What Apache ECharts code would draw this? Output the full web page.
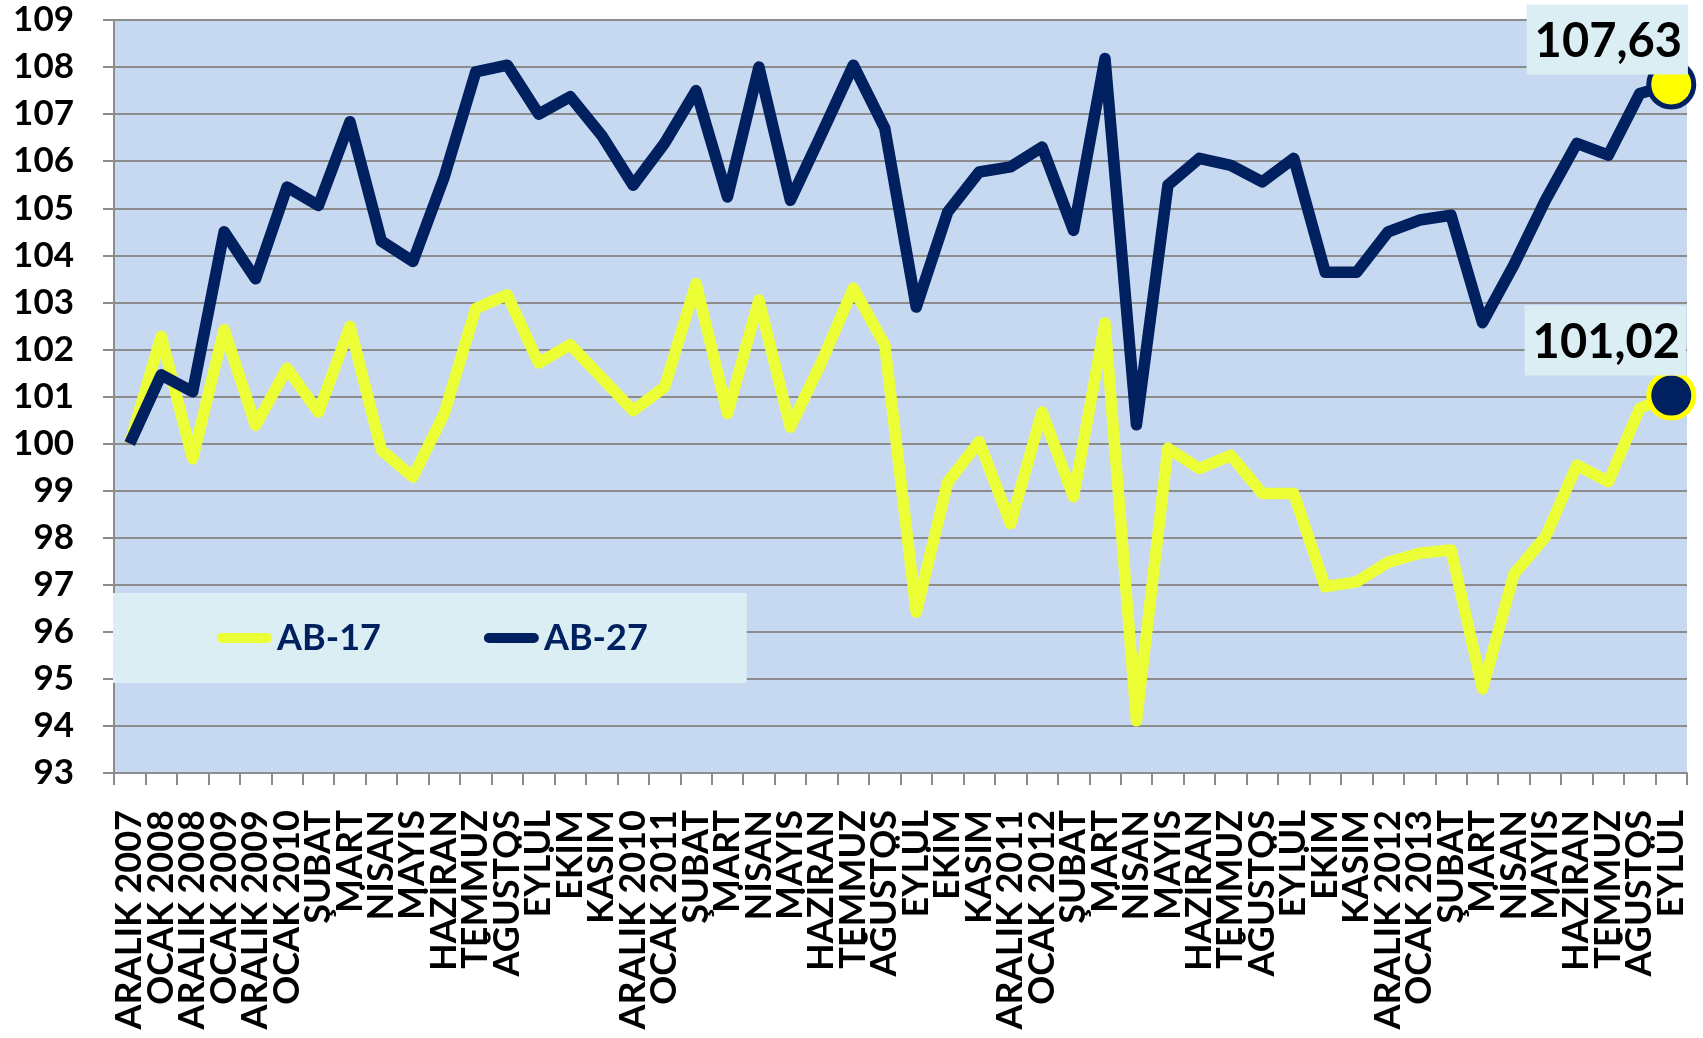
<!DOCTYPE html>
<html><head><meta charset="utf-8">
<script src="https://cdn.jsdelivr.net/npm/echarts@6/dist/echarts.min.js"></script>
<style>html,body{margin:0;padding:0;background:#fff}#c{width:1703px;height:1038px}</style>
</head><body><div id="c"></div>
<script>
const categories = ["ARALIK 2007","OCAK 2008","ARALIK 2008","OCAK 2009","ARALIK 2009","OCAK 2010","ŞUBAT","MART","NİSAN","MAYIS","HAZİRAN","TEMMUZ","AĞUSTOS","EYLÜL","EKİM","KASIM","ARALIK 2010","OCAK 2011","ŞUBAT","MART","NİSAN","MAYIS","HAZİRAN","TEMMUZ","AĞUSTOS","EYLÜL","EKİM","KASIM","ARALIK 2011","OCAK 2012","ŞUBAT","MART","NİSAN","MAYIS","HAZİRAN","TEMMUZ","AĞUSTOS","EYLÜL","EKİM","KASIM","ARALIK 2012","OCAK 2013","ŞUBAT","MART","NİSAN","MAYIS","HAZİRAN","TEMMUZ","AĞUSTOS","EYLÜL"];
const ab17 = [100,102.28,99.68,102.42,100.39,101.6,100.67,102.49,99.86,99.29,100.64,102.87,103.16,101.71,102.1,101.4,100.7,101.2,103.4,100.64,103.05,100.35,101.75,103.3,102.1,96.42,99.18,100.04,98.3,100.67,98.87,102.56,94.11,99.9,99.47,99.75,98.94,98.94,96.96,97.06,97.48,97.67,97.74,94.79,97.23,98.02,99.54,99.19,100.75,101.02];
const ab27 = [100,101.46,101.1,104.5,103.5,105.45,105.06,106.84,104.3,103.87,105.67,107.9,108.04,107.0,107.37,106.55,105.49,106.38,107.5,105.24,108.0,105.17,106.59,108.04,106.7,102.9,104.92,105.77,105.88,106.3,104.53,108.18,100.4,105.49,106.06,105.91,105.56,106.06,103.64,103.64,104.5,104.75,104.85,102.57,103.8,105.17,106.38,106.13,107.44,107.63];
const seriesNames = ["AB-17","AB-27"];
const yMin = 93, yMax = 109, yStep = 1;

const NAVY = '#002060', YEL = '#ECFF36';
const FONT = 'Lato';
const fmt = v => v.toFixed(2).replace('.', ',');

function withEndMarker(arr, fill, border, labelOffset) {
  return arr.map((v, i) => {
    if (i !== arr.length - 1) return v;
    return {
      value: v,
      symbol: 'circle',
      symbolSize: 45,
      itemStyle: { color: fill, borderColor: border, borderWidth: 5 },
      label: {
        show: true, position: 'top', offset: labelOffset,
        formatter: p => fmt(p.value),
        fontFamily: FONT, fontWeight: 'bold', fontSize: 47, color: '#000',
        backgroundColor: '#DBEEF3', padding: [11, 6, 7, 8], lineHeight: 52
      }
    };
  });
}

const chart = echarts.init(document.getElementById('c'), null, { renderer: 'canvas' });
chart.setOption({
  animation: false,
  backgroundColor: '#fff',
  grid: { left: 114, right: 16, top: 20, bottom: 265, show: true, backgroundColor: '#C6D9F1', borderWidth: 0 },
  legend: {
    left: 113, top: 593,
    padding: [27, 99, 27, 104],
    backgroundColor: '#DBEEF3',
    itemGap: 103, itemWidth: 55, itemHeight: 11,
    icon: 'path://M5 0H50A5 5 0 0 1 50 10H5A5 5 0 0 1 5 0Z',
    textStyle: { color: NAVY, fontFamily: FONT, fontWeight: 'bold', fontSize: 36 },
    data: seriesNames
  },
  xAxis: {
    type: 'category', data: categories, boundaryGap: true,
    axisLine: { lineStyle: { color: '#8C8C8C', width: 2 } },
    axisTick: { show: true, length: 12, lineStyle: { color: '#8C8C8C', width: 2 } },
    axisLabel: { interval: 0, rotate: 90, margin: 37, color: '#000', fontFamily: FONT, fontWeight: 'bold', fontSize: 36 },
    splitLine: { show: false }
  },
  yAxis: {
    type: 'value', min: yMin, max: yMax, interval: yStep,
    axisLine: { show: true, lineStyle: { color: '#8C8C8C', width: 2 } },
    axisTick: { show: true, length: 11, lineStyle: { color: '#8C8C8C', width: 2 } },
    axisLabel: { margin: 40, color: '#000', fontFamily: FONT, fontWeight: 'bold', fontSize: 35 },
    splitLine: { show: true, lineStyle: { color: '#8C8C8C', width: 2 } }
  },
  series: [
    {
      name: seriesNames[0], type: 'line', data: withEndMarker(ab17, NAVY, '#FFFF00', [-66, 10]),
      symbol: 'none', color: YEL,
      lineStyle: { color: YEL, width: 11.5, join: 'round' }, z: 2
    },
    {
      name: seriesNames[1], type: 'line', data: withEndMarker(ab27, '#FFFF00', NAVY, [-64, 20]),
      symbol: 'none', color: NAVY,
      lineStyle: { color: NAVY, width: 11.5, join: 'round' }, z: 3
    }
  ]
});
</script></body></html>
